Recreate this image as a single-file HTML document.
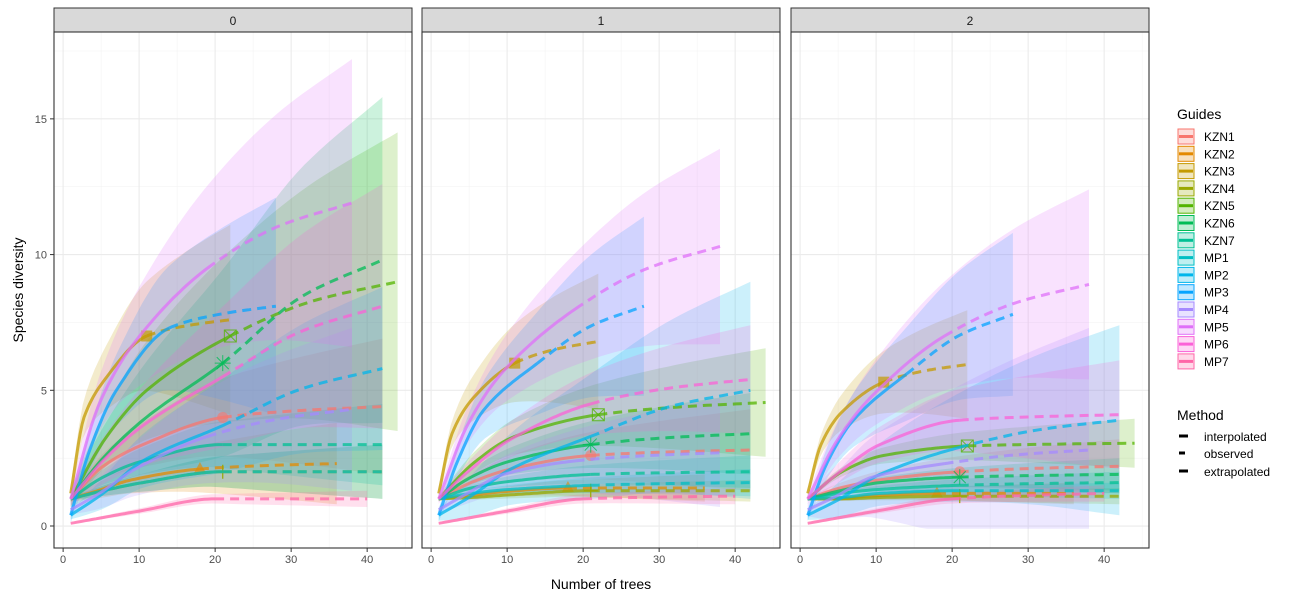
<!DOCTYPE html>
<html><head><meta charset="utf-8"><style>
body{margin:0;background:#fff;font-family:"Liberation Sans",Arial,sans-serif;}
svg text{font-family:"Liberation Sans",Arial,sans-serif;}
</style></head><body>
<svg id="c" width="1300" height="600" xmlns="http://www.w3.org/2000/svg"></svg>
<script>
const panels=["0","1","2"];
const guides=["KZN1","KZN2","KZN3","KZN4","KZN5","KZN6","KZN7","MP1","MP2","MP3","MP4","MP5","MP6","MP7"];
const colors=["#F8766D","#E38900","#C49A00","#99A800","#53B400","#00BC56","#00C094","#00BFC4","#00B6EB","#06A4FF","#A58AFF","#DF70F8","#FB61D7","#FF66A8"];
const shapes=["circle","triangle","square","plus","sqx","star","","","","","","","",""];
const nObs=[21,18,11,21,22,21,21,21,21,14,19,19,21,20];
const yStart=[1,1,1.2,1,1,1,1,1,0.4,0.4,0.6,1,1,0.1];
const yQuarter=[[2.2,1.3,4.0,1.3,3.2,2.5,1.8,1.3,1.2,2.8,1.2,4.5,2.4,0.3],[1.6,1.1,3.4,1.05,2.3,1.8,1.4,1.2,1.1,2.4,1.2,3.7,2.1,0.3],[1.4,1.0,3.0,1.0,2.0,1.3,1.2,1.05,1.0,2.3,1.1,3.1,2.0,0.3]];
const yMid=[[3.0,1.7,5.4,1.6,5.0,3.9,2.4,1.6,2.4,5.0,2.1,6.8,3.7,0.55],[2.1,1.25,4.7,1.15,3.3,2.4,1.65,1.35,2.1,4.3,1.9,5.7,3.2,0.55],[1.7,1.1,4.2,1.05,2.6,1.6,1.35,1.2,1.9,3.9,1.8,4.8,3.0,0.55]];
const yObs=[[4,2.1,7,2,7,6,3,2,3.7,7.3,3.3,9.5,5.5,1],[2.6,1.4,6,1.3,4.1,3.0,1.9,1.5,3.3,6,2.4,8.0,4.5,1.0],[2,1.2,5.3,1.1,2.95,1.8,1.5,1.3,2.9,5.6,2.3,7.0,3.9,1.0]];
const yEnd=[[4.4,2.3,7.6,2,9.0,9.8,3,2,5.8,8.1,4.3,11.9,8.1,1],[2.8,1.4,6.8,1.3,4.55,3.4,2.0,1.6,5.0,8.1,2.7,10.3,5.4,1.1],[2.2,1.2,5.95,1.1,3.05,1.9,1.6,1.3,3.9,7.8,2.8,8.9,4.1,1.2]];
const ciEnd=[[2.5,1.5,3.5,1,5.5,6,1.5,1,3,4,3,5.3,4.5,0.3],[1.5,0.5,2.5,0.4,2,1.5,0.6,0.5,4,3.3,2,3.6,2,0.3],[1,0.4,2,0.3,0.9,0.6,0.4,0.3,3.5,3,4.5,3.5,2,0.3]];
const yTicks=[0,5,10,15];
const xTicks=[0,10,20,30,40];

const NS="http://www.w3.org/2000/svg";
const svg=document.getElementById('c');
function mk(t,a,p){const e=document.createElementNS(NS,t);for(const k in a)e.setAttribute(k,a[k]);(p||svg).appendChild(e);return e;}
const pX=[54,422,791],pW=358,pT=32,pB=548;
const xD=[-1.2,45.9],yD=[-0.81,18.2];
function sx(p,v){return pX[p]+(v-xD[0])/(xD[1]-xD[0])*pW;}
function sy(v){return pB-(v-yD[0])/(yD[1]-yD[0])*(pB-pT);}
// monotone cubic (Fritsch-Carlson)
function mono(pts){
  const n=pts.length,d=[],m=[];
  for(let i=0;i<n-1;i++)d.push((pts[i+1][1]-pts[i][1])/(pts[i+1][0]-pts[i][0]));
  m[0]=d[0];m[n-1]=d[n-2];
  for(let i=1;i<n-1;i++)m[i]=(d[i-1]*d[i]<=0)?0:(2/(1/d[i-1]+1/d[i]));
  return function(x){
    let i=0;while(i<n-2&&x>pts[i+1][0])i++;
    const h=pts[i+1][0]-pts[i][0],t=(x-pts[i][0])/h,t2=t*t,t3=t2*t;
    return (2*t3-3*t2+1)*pts[i][1]+(t3-2*t2+t)*h*m[i]+(-2*t3+3*t2)*pts[i+1][1]+(t3-t2)*h*m[i+1];
  };
}
function knots(p,i){const n=nObs[i];return [[1,yStart[i]],[n/4,yQuarter[p][i]],[n/2,yMid[p][i]],[n,yObs[p][i]],[1.5*n,yObs[p][i]+0.65*(yEnd[p][i]-yObs[p][i])],[2*n,yEnd[p][i]]];}
function pathFn(p,f,a,b){let d="";for(let k=0;k<=40;k++){const x=a+(b-a)*k/40;d+=(k?"L":"M")+sx(p,x).toFixed(1)+","+sy(f(x)).toFixed(1);}return d;}
const defs=mk('defs',{});
panels.forEach((pn,p)=>{
  const g=mk('g',{});
  
  const cp=mk('clipPath',{id:'cp'+p},defs);mk('rect',{x:pX[p],y:pT,width:pW,height:pB-pT},cp);
  const st=mk('rect',{x:pX[p],y:8,width:pW,height:24,fill:'#D9D9D9',stroke:'#333','stroke-width':1},g);
  
  const stt=mk('text',{x:pX[p]+pW/2,y:25,'text-anchor':'middle','font-size':12,fill:'#1a1a1a'},g);stt.textContent=pn;
  [2.5,7.5,12.5,17.5].forEach(v=>mk('line',{x1:pX[p],x2:pX[p]+pW,y1:sy(v),y2:sy(v),stroke:'#F3F3F3','stroke-width':0.6},g));
  [5,15,25,35,45].forEach(v=>mk('line',{x1:sx(p,v),x2:sx(p,v),y1:pT,y2:pB,stroke:'#F3F3F3','stroke-width':0.6},g));
  yTicks.forEach(v=>mk('line',{x1:pX[p],x2:pX[p]+pW,y1:sy(v),y2:sy(v),stroke:'#EBEBEB','stroke-width':1.1},g));
  xTicks.forEach(v=>{mk('line',{x1:sx(p,v),x2:sx(p,v),y1:pT,y2:pB,stroke:'#EBEBEB','stroke-width':1.1},g);
    mk('line',{x1:sx(p,v),x2:sx(p,v),y1:pB,y2:pB+4,stroke:'#333'},g);
    const t=mk('text',{x:sx(p,v),y:pB+15,'text-anchor':'middle','font-size':11,fill:'#4d4d4d'},g);t.textContent=v;});
  const dg=mk('g',{'clip-path':'url(#cp'+p+')'},g);
  guides.forEach((gn,i)=>{
    const n=nObs[i],c=colors[i],f=mono(knots(p,i));
    let up=[],lo=[];
    for(let k=0;k<=40;k++){const x=1+(2*n-1)*k/40;const y=f(x);const w=ciEnd[p][i]*Math.pow(x/(2*n),0.8);
      up.push(sx(p,x).toFixed(1)+","+sy(y+w).toFixed(1));lo.unshift(sx(p,x).toFixed(1)+","+sy(Math.max(y-w,-0.1)).toFixed(1));}
    const band=mk('polygon',{points:up.concat(lo).join(' '),fill:c,'fill-opacity':0.2},dg);
    
    
  });
  guides.forEach((gn,i)=>{
    const n=nObs[i],c=colors[i],f=mono(knots(p,i));
    const l1=mk('path',{d:pathFn(p,f,1,n),fill:'none',stroke:c,'stroke-width':3,'stroke-opacity':0.75},dg);
    
    
    const l2=mk('path',{d:pathFn(p,f,n,2*n),fill:'none',stroke:c,'stroke-width':3,'stroke-dasharray':'9,6','stroke-opacity':0.75},dg);
    
    
    const mx=sx(p,n),my=sy(yObs[p][i]),s=shapes[i];let m=null;
    if(s==='circle')m=mk('circle',{cx:mx,cy:my,r:5.5,fill:c,'fill-opacity':0.6},dg);
    else if(s==='triangle')m=mk('polygon',{points:`${mx},${my-7} ${mx-6},${my+4} ${mx+6},${my+4}`,fill:c,'fill-opacity':0.6},dg);
    else if(s==='square')m=mk('rect',{x:mx-5.5,y:my-5.5,width:11,height:11,fill:c,'fill-opacity':0.7},dg);
    else if(s==='plus')m=mk('path',{d:`M${mx-7},${my}H${mx+7}M${mx},${my-7}V${my+7}`,stroke:c,'stroke-width':1.2},dg);
    else if(s==='sqx')m=mk('path',{d:`M${mx-6},${my-6}h12v12h-12zM${mx-6},${my-6}l12,12M${mx+6},${my-6}l-12,12`,stroke:c,'stroke-width':1,fill:'none','stroke-opacity':0.8},dg);
    else if(s==='star')m=mk('path',{d:`M${mx-8},${my}H${mx+8}M${mx},${my-8}V${my+8}M${mx-6},${my-6}l12,12M${mx+6},${my-6}l-12,12`,stroke:c,'stroke-width':1,'stroke-opacity':0.8},dg);
    if(m){}
  });
  mk('rect',{x:pX[p],y:pT,width:pW,height:pB-pT,fill:'none',stroke:'#333','stroke-width':1.1},g);
});
const ya=mk('g',{});
yTicks.forEach(v=>{mk('line',{x1:50,x2:54,y1:sy(v),y2:sy(v),stroke:'#333'},ya);const t=mk('text',{x:47,y:sy(v)+4,'text-anchor':'end','font-size':11,fill:'#4d4d4d'},ya);t.textContent=v;});
const yt=mk('text',{x:23,y:290,'text-anchor':'middle','font-size':14,transform:'rotate(-90 23 290)'});yt.textContent='Species diversity';

const xt=mk('text',{x:601,y:589,'text-anchor':'middle','font-size':14});xt.textContent='Number of trees';

const lg=mk('g',{});
const lt=mk('text',{x:1177,y:119,'font-size':14},lg);lt.textContent='Guides';
guides.forEach((gn,i)=>{const y=129+i*17.3;
  const e=mk('g',{},lg);
  mk('rect',{x:1178,y:y,width:16,height:15,fill:colors[i],'fill-opacity':0.25,stroke:colors[i],'stroke-width':1},e);
  mk('line',{x1:1179,x2:1193,y1:y+7.5,y2:y+7.5,stroke:colors[i],'stroke-width':3},e);
  const t=mk('text',{x:1204,y:y+12,'font-size':12},e);t.textContent=gn;});
const lm=mk('g',{});
const mt=mk('text',{x:1177,y:420,'font-size':14},lm);mt.textContent='Method';
[["interpolated",440,9],["observed",457,6],["extrapolated",475,9]].forEach(a=>{
  mk('line',{x1:1179,x2:1179+a[2],y1:a[1]-4,y2:a[1]-4,stroke:'#000','stroke-width':3},lm);
  const t=mk('text',{x:1204,y:a[1]+1,'font-size':12},lm);t.textContent=a[0];});
</script>
</body></html>
